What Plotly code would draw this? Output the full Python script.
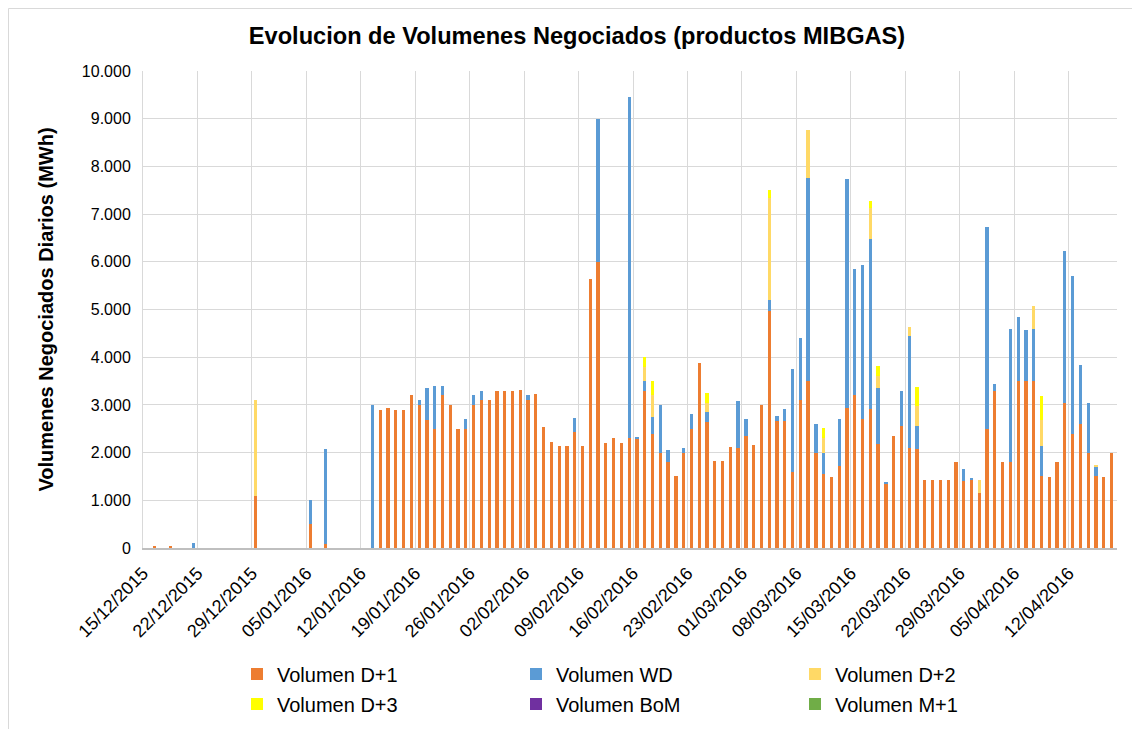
import pandas as pd
import plotly.graph_objects as go

# Categories: one per day, 15/12/2015 .. 17/04/2016
dates = pd.date_range("2015-12-15", "2016-04-17", freq="D")

n = len(dates)
d1 = [0] * n
wd = [0] * n
d2 = [0] * n
d3 = [0] * n
bom = [0] * n
m1 = [0] * n

# (day index, D+1, WD, D+2, D+3)
readings = [
    (1, 50, 0, 0, 0), (3, 50, 0, 0, 0), (6, 0, 100, 0, 0),
    (14, 1090, 0, 2010, 0), (21, 500, 500, 0, 0), (23, 80, 2000, 0, 0),
    (29, 0, 3000, 0, 0), (30, 2900, 0, 0, 0), (31, 2930, 0, 0, 0),
    (32, 2900, 0, 0, 0), (33, 2900, 0, 0, 0), (34, 3200, 0, 0, 0),
    (35, 3000, 100, 0, 0), (36, 2690, 660, 0, 0), (37, 2500, 900, 0, 0),
    (38, 3200, 200, 0, 0), (39, 3000, 0, 0, 0), (40, 2500, 0, 0, 0),
    (41, 2500, 200, 0, 0), (42, 3000, 200, 0, 0), (43, 3100, 200, 0, 0),
    (44, 3100, 0, 0, 0), (45, 3300, 0, 0, 0), (46, 3300, 0, 0, 0),
    (47, 3300, 0, 0, 0), (48, 3320, 0, 0, 0), (49, 3100, 100, 0, 0),
    (50, 3230, 0, 0, 0), (51, 2530, 0, 0, 0), (52, 2230, 0, 0, 0),
    (53, 2130, 0, 0, 0), (54, 2130, 0, 0, 0), (55, 2430, 300, 0, 0),
    (56, 2130, 0, 0, 0), (57, 5630, 0, 0, 0), (58, 6000, 3000, 0, 0),
    (59, 2200, 0, 0, 0), (60, 2300, 0, 0, 0), (61, 2200, 0, 0, 0),
    (62, 2300, 7150, 0, 0), (63, 2280, 50, 0, 0), (64, 3300, 200, 300, 200),
    (65, 2400, 350, 450, 300), (66, 2000, 1000, 0, 0), (67, 1800, 250, 0, 0),
    (68, 1500, 0, 0, 0), (69, 2000, 100, 0, 0), (70, 2500, 300, 0, 0),
    (71, 3870, 0, 0, 0), (72, 2650, 200, 200, 200), (73, 1820, 0, 0, 0),
    (74, 1820, 0, 0, 0), (75, 2120, 0, 0, 0), (76, 2100, 980, 0, 0),
    (77, 2350, 350, 0, 0), (78, 2150, 0, 0, 0), (79, 3000, 0, 0, 0),
    (80, 4970, 230, 2140, 170), (81, 2660, 110, 0, 0), (82, 2660, 260, 0, 0),
    (83, 1600, 2150, 0, 0), (84, 3100, 1310, 0, 0), (85, 3500, 4260, 1000, 0),
    (86, 2000, 590, 0, 0), (87, 1560, 440, 310, 200), (88, 1490, 0, 0, 0),
    (89, 1710, 1000, 0, 0), (90, 2940, 4790, 0, 0), (91, 3200, 2650, 0, 0),
    (92, 2700, 3230, 0, 0), (93, 2910, 3560, 650, 150), (94, 2170, 1190, 250, 200),
    (95, 1350, 30, 0, 0), (96, 2350, 0, 0, 0), (97, 2560, 730, 0, 0),
    (98, 2100, 2340, 190, 0), (99, 2080, 480, 410, 400), (100, 1430, 0, 0, 0),
    (101, 1430, 0, 0, 0), (102, 1430, 0, 0, 0), (103, 1430, 0, 0, 0),
    (104, 1800, 0, 0, 0), (105, 1400, 250, 0, 0), (106, 1430, 30, 0, 0),
    (107, 1150, 0, 280, 0), (108, 2500, 4220, 0, 0), (109, 3300, 130, 0, 0),
    (110, 1800, 0, 0, 0), (111, 1800, 2800, 0, 0), (112, 3500, 1340, 0, 0),
    (113, 3500, 1070, 0, 0), (114, 3500, 1090, 490, 0), (115, 1520, 610, 550, 500),
    (116, 1490, 0, 0, 0), (117, 1800, 0, 0, 0), (118, 3050, 3170, 0, 0),
    (119, 2400, 3300, 0, 0), (120, 2590, 1240, 0, 0), (121, 2000, 1030, 0, 0),
    (122, 1520, 180, 50, 0), (123, 1490, 0, 0, 0), (124, 2000, 0, 0, 0),
]
for i, a, b, c, e in readings:
    d1[i], wd[i], d2[i], d3[i] = a, b, c, e

series = [
    ("Volumen D+1", d1, "#ED7D31", "legend"),
    ("Volumen WD", wd, "#5B9BD5", "legend"),
    ("Volumen D+2", d2, "#FFD966", "legend"),
    ("Volumen D+3", d3, "#FFFF00", "legend2"),
    ("Volumen BoM", bom, "#7030A0", "legend2"),
    ("Volumen M+1", m1, "#70AD47", "legend2"),
]

FONT = "Liberation Sans, Arial, sans-serif"
DAY = 86400000

fig = go.Figure()
for name, vals, color, lg in series:
    fig.add_trace(go.Bar(
        x=dates, y=vals, name=name, marker=dict(color=color, line=dict(width=0)),
        xperiod=DAY, xperiodalignment="middle", width=0.42 * DAY, legend=lg,
    ))

W, H = 1140, 729
OFF = 8  # page body margin
L, R, T, B = 143 - OFF, 23 + OFF, 71 - OFF, 181 + OFF
PW, PH = W - L - R, H - T - B

leg_common = dict(
    orientation="h", xref="container", yref="container", xanchor="left",
    yanchor="middle", entrywidth=234, entrywidthmode="pixels", itemwidth=30,
    font=dict(family=FONT, size=20, color="#000000"), bgcolor="rgba(0,0,0,0)",
    traceorder="normal",
)

fig.update_layout(
    width=W, height=H,
    margin=dict(l=L, r=R, t=T, b=B, pad=0),
    barmode="stack",
    bargap=0,
    separators=",.",
    plot_bgcolor="white", paper_bgcolor="white",
    font=dict(family=FONT, color="#000000"),
    title=dict(
        text="<b>Evolucion de Volumenes Negociados (productos MIBGAS)</b>",
        x=(577 - OFF) / W, xref="container", xanchor="center",
        y=1 - (36 - OFF) / H, yref="container", yanchor="middle",
        font=dict(family=FONT, size=23.6, color="#000000"),
    ),
    legend=dict(x=229 / W, y=1 - (674 - OFF) / H, **leg_common),
    legend2=dict(x=229 / W, y=1 - (704 - OFF) / H, **leg_common),
    shapes=[dict(
        type="rect", xref="paper", yref="paper",
        x0=(0.5 - L) / PW, x1=(1160 - L) / PW,
        y0=(T + PH - 760) / PH, y1=(T + PH - 0.5) / PH,
        line=dict(color="#D9D9D9", width=1), fillcolor="rgba(0,0,0,0)", layer="below",
    )],
)

fig.update_xaxes(
    type="date",
    range=["2015-12-15", "2016-04-18 05:00"],
    tick0="2015-12-15", dtick=7 * DAY, tickformat="%d/%m/%Y", tickangle=-45,
    showgrid=True, gridcolor="#D9D9D9", gridwidth=1,
    showline=True, linecolor="#BFBFBF", linewidth=1.5,
    ticks="", ticklabelstandoff=6,
    tickfont=dict(family=FONT, size=18, color="#000000"),
)
fig.update_yaxes(
    range=[0, 10000], dtick=1000, tickformat=",d",
    showgrid=True, gridcolor="#D9D9D9", gridwidth=1,
    zeroline=False, showline=True, linecolor="#D9D9D9", linewidth=1,
    ticks="", ticklabelstandoff=8,
    tickfont=dict(family=FONT, size=16, color="#000000"),
    title=dict(text="<b>Volumenes Negociados Diarios (MWh)</b>",
               font=dict(family=FONT, size=20, color="#000000"), standoff=22),
)

fig.write_html("out.html")
